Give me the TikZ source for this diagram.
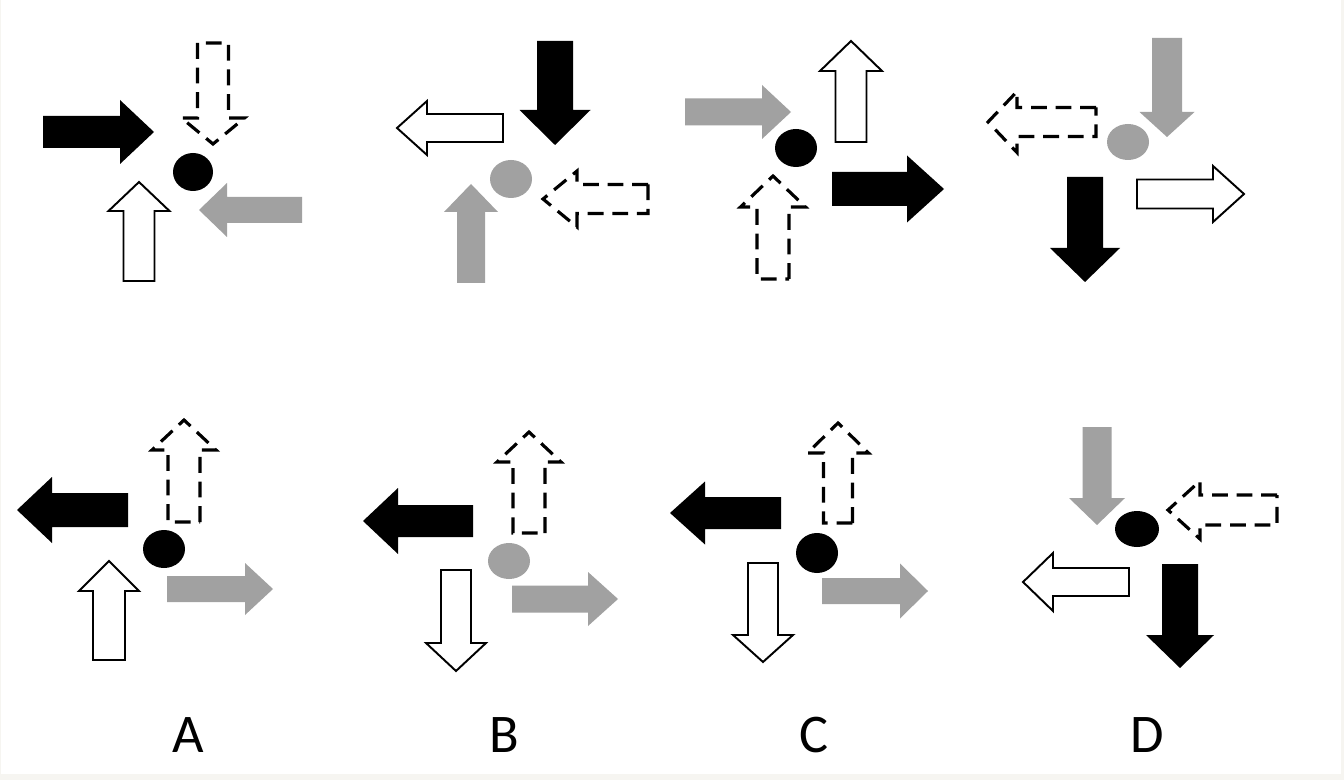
\documentclass[tikz,border=0pt]{standalone}
\usepackage{fontspec}
\setmainfont{Carlito}
\usepackage{tikz}
\definecolor{arrgray}{gray}{0.63}
\definecolor{edgecol}{HTML}{F6F5F1}
\tikzset{
  blackarr/.style={fill=black,draw=none},
  grayarr/.style={fill=arrgray,draw=none},
  whitearr/.style={draw=black,fill=white,line width=1.1pt,line join=miter},
  dasharr/.style={draw=black,line width=1.8pt,dash pattern=on 9pt off 5pt},
  blackdot/.style={fill=black},
  graydot/.style={fill=arrgray},
  letter/.style={anchor=base,font=\fontsize{31}{36}\selectfont}
}
% #1 style, #2 tail, #3 angle, #4 length, #5 shaft half width, #6 head half width, #7 head length
\newcommand{\blockarrow}[7]{%
  \draw[#1,shift={#2},rotate=#3] (0,#5) -- ({#4-#7},#5) -- ({#4-#7},#6) -- (#4,0)
    -- ({#4-#7},-#6) -- ({#4-#7},-#5) -- (0,-#5) -- cycle;}

\begin{document}
\begin{tikzpicture}[x=0.02cm,y=-0.02cm]
\fill[edgecol] (0,0) rectangle (1344,780);
\fill[white] (1,0) rectangle (1341,774);

% top row
\blockarrow{blackarr}{(43,132)}{0}{111}{16}{32}{34}
\blockarrow{dasharr}{(213,43)}{-90}{101}{15.5}{31.5}{26}
\blockarrow{whitearr}{(139,281)}{90}{99}{15.5}{30.5}{29}
\blockarrow{grayarr}{(302,210)}{180}{103}{13}{27}{28}
\fill[blackdot] (193,172) ellipse (20 and 19);

\blockarrow{whitearr}{(503,128)}{180}{106}{14}{27}{30}
\blockarrow{blackarr}{(555,41)}{-90}{104}{18}{35.5}{35}
\blockarrow{grayarr}{(471,283)}{90}{99}{14}{27}{28}
\blockarrow{dasharr}{(648,199)}{180}{105}{14.5}{28}{34}
\fill[graydot] (511,179) ellipse (21 and 19);

\blockarrow{grayarr}{(685,112)}{0}{106}{13.5}{27}{29}
\blockarrow{whitearr}{(851,142)}{90}{101}{15.5}{31}{30}
\blockarrow{dasharr}{(773,279)}{90}{103}{16}{32.5}{31}
\blockarrow{blackarr}{(832,189)}{0}{112}{17}{33.5}{37}
\fill[blackdot] (796,148) ellipse (21 and 19);

\blockarrow{dasharr}{(1096,122)}{180}{108}{14.5}{30.5}{29}
\blockarrow{grayarr}{(1167,38)}{-90}{99}{15}{27.5}{25}
\blockarrow{blackarr}{(1085,177)}{-90}{105}{18}{35}{34}
\blockarrow{whitearr}{(1137,194)}{0}{107}{14.5}{28}{31}
\fill[graydot] (1128,142) ellipse (21 and 18);

% bottom row
\blockarrow{blackarr}{(128,510)}{180}{111}{17}{33}{35}
\blockarrow{dasharr}{(184,522)}{90}{102}{16}{32}{30}
\blockarrow{whitearr}{(109,660)}{90}{99}{16}{30}{30}
\blockarrow{grayarr}{(167,589)}{0}{106}{13}{26}{28}
\fill[blackdot] (164,549) ellipse (21 and 19);

\blockarrow{blackarr}{(473,521)}{180}{110}{16}{33}{35}
\blockarrow{dasharr}{(529,533)}{90}{101}{16}{32}{30}
\blockarrow{whitearr}{(456,570)}{-90}{101}{15}{30}{28}
\blockarrow{grayarr}{(512,599)}{0}{106}{13.5}{27}{30}
\fill[graydot] (509,561) ellipse (21 and 18);

\blockarrow{blackarr}{(781,513)}{180}{111}{16}{31.5}{35}
\blockarrow{dasharr}{(838,523)}{90}{100}{14.5}{30.5}{30}
\blockarrow{whitearr}{(763,563)}{-90}{99}{15}{30}{27}
\blockarrow{grayarr}{(822,591)}{0}{106}{13}{27.5}{28}
\fill[blackdot] (817,553) ellipse (21 and 20);

\blockarrow{grayarr}{(1097,427)}{-90}{98}{14.5}{28}{27}
\blockarrow{dasharr}{(1277,510)}{180}{109}{15}{29}{32}
\blockarrow{whitearr}{(1129,582)}{180}{106}{14}{29}{30}
\blockarrow{blackarr}{(1180,564)}{-90}{104}{18}{34}{33}
\fill[blackdot] (1137,529) ellipse (22 and 18);

\node[letter] (labA) at (188,752) {A};
\node[letter] (labB) at (504,752) {B};
\node[letter] (labC) at (814,752) {C};
\node[letter] (labD) at (1147,752) {D};
\end{tikzpicture}
\end{document}
